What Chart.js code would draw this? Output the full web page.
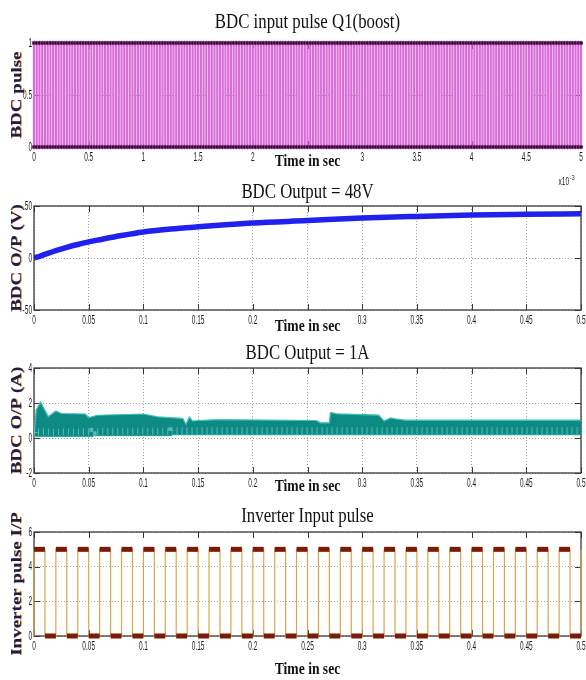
<!DOCTYPE html>
<html>
<head>
<meta charset="utf-8">
<title>BDC and inverter waveforms</title>
<script src="https://cdn.jsdelivr.net/npm/chart.js@4.4.1/dist/chart.umd.min.js"></script>
<style>
  html, body { margin: 0; padding: 0; background: #fff; }
  body { width: 586px; height: 680px; position: relative; overflow: hidden; }
  canvas { position: absolute; left: 0; }
</style>
</head>
<body>
<canvas id="q1Chart" width="586" height="190" style="top:0px"></canvas>
<canvas id="voltChart" width="586" height="166" style="top:172px"></canvas>
<canvas id="currChart" width="586" height="162" style="top:338px"></canvas>
<canvas id="invChart" width="586" height="180" style="top:500px"></canvas>
<script>
// ===== Data =====

// Q1 gate pulse, times in microseconds (axis shows x10^-3 s)
const q1RiseUs = [
  0, 50, 100, 150, 200, 250, 300, 350, 400, 450,
  500, 550, 600, 650, 700, 750, 800, 850, 900, 950,
  1000, 1050, 1100, 1150, 1200, 1250, 1300, 1350, 1400, 1450,
  1500, 1550, 1600, 1650, 1700, 1750, 1800, 1850, 1900, 1950,
  2000, 2050, 2100, 2150, 2200, 2250, 2300, 2350, 2400, 2450,
  2500, 2550, 2600, 2650, 2700, 2750, 2800, 2850, 2900, 2950,
  3000, 3050, 3100, 3150, 3200, 3250, 3300, 3350, 3400, 3450,
  3500, 3550, 3600, 3650, 3700, 3750, 3800, 3850, 3900, 3950,
  4000, 4050, 4100, 4150, 4200, 4250, 4300, 4350, 4400, 4450,
  4500, 4550, 4600, 4650, 4700, 4750, 4800, 4850, 4900, 4950, 5000
];
const q1FallUs = [
  25, 75, 125, 175, 225, 275, 325, 375, 425, 475,
  525, 575, 625, 675, 725, 775, 825, 875, 925, 975,
  1025, 1075, 1125, 1175, 1225, 1275, 1325, 1375, 1425, 1475,
  1525, 1575, 1625, 1675, 1725, 1775, 1825, 1875, 1925, 1975,
  2025, 2075, 2125, 2175, 2225, 2275, 2325, 2375, 2425, 2475,
  2525, 2575, 2625, 2675, 2725, 2775, 2825, 2875, 2925, 2975,
  3025, 3075, 3125, 3175, 3225, 3275, 3325, 3375, 3425, 3475,
  3525, 3575, 3625, 3675, 3725, 3775, 3825, 3875, 3925, 3975,
  4025, 4075, 4125, 4175, 4225, 4275, 4325, 4375, 4425, 4475,
  4525, 4575, 4625, 4675, 4725, 4775, 4825, 4875, 4925, 4975
];

// BDC output voltage (V)
const voltTimes = [0, 0.005, 0.01, 0.02, 0.03, 0.04, 0.05, 0.06, 0.08, 0.1, 0.125, 0.15, 0.175, 0.2, 0.25, 0.3, 0.35, 0.4, 0.45, 0.5];
const voltValues = [0, 1.6, 3.5, 7.2, 10.3, 13, 15.5, 17.6, 21.6, 25, 27.8, 30, 32, 33.7, 36, 38.4, 40, 41.3, 42, 42.6];

// BDC output current (A): upper envelope, lower envelope, ripple marks
const currTimes = [0, 0.002, 0.006, 0.013, 0.02, 0.025, 0.047, 0.05, 0.058, 0.1, 0.113, 0.136, 0.139, 0.142, 0.145, 0.15, 0.168, 0.258, 0.262, 0.27, 0.271, 0.277, 0.315, 0.32, 0.326, 0.33, 0.339, 0.5];
const currUpper = [0, 1.6, 2.05, 1.22, 1.54, 1.4, 1.37, 1.17, 1.3, 1.37, 1.21, 1.12, 0.78, 1.2, 0.97, 1.0, 1.05, 1.0, 0.87, 0.87, 1.46, 1.38, 1.31, 0.97, 1.15, 1.1, 1.02, 1.02];
const currLowTimes = [0, 0.054, 0.126, 0.338, 0.5];
const currLower = [0.02, 0.08, 0.13, 0.18, 0.18];
const currRipple = [0.28, 0.34, 0.38, 0.42, 0.42];

// Inverter gate pulse (s)
const invRise = [0, 0.02, 0.04, 0.06, 0.08, 0.1, 0.12, 0.14, 0.16, 0.18, 0.2, 0.22, 0.24, 0.26, 0.28, 0.3, 0.32, 0.34, 0.36, 0.38, 0.4, 0.42, 0.44, 0.46, 0.48, 0.5];
const invFall = [0.01, 0.03, 0.05, 0.07, 0.09, 0.11, 0.13, 0.15, 0.17, 0.19, 0.21, 0.23, 0.25, 0.27, 0.29, 0.31, 0.33, 0.35, 0.37, 0.39, 0.41, 0.43, 0.45, 0.47, 0.49];

// ===== Helpers =====

function pulsePoints(rises, falls, high, low) {
  const pts = [];
  rises.forEach((r, i) => {
    pts.push({x: r, y: low}, {x: r, y: high});
    if (i < falls.length) pts.push({x: falls[i], y: high}, {x: falls[i], y: low});
  });
  return pts;
}

function zip(xs, ys) {
  return xs.map((x, i) => ({x: x, y: ys[i]}));
}

function fmt(v) {
  return String(Math.round(v * 10000) / 10000);
}

function squeezed(ctx, text, x, y, font, sx, align, baseline, color) {
  ctx.save();
  ctx.translate(x, y);
  ctx.scale(sx, 1);
  ctx.font = font;
  ctx.textAlign = align;
  ctx.textBaseline = baseline;
  ctx.fillStyle = color;
  ctx.fillText(text, 0, 0);
  ctx.restore();
}

// ===== MATLAB style axes: frame, inward ticks, labels =====
const matlabAxes = {
  id: 'matlabAxes',
  beforeDatasetsDraw(chart, args, o) {
    const {ctx, chartArea: a, scales: {x, y}} = chart;
    ctx.save();
    ctx.strokeStyle = '#3a3a3a';
    ctx.lineWidth = 1.3;
    ctx.strokeRect(a.left, a.top, a.right - a.left, a.bottom - a.top);
    ctx.lineWidth = 1;
    ctx.beginPath();
    x.ticks.forEach(t => {
      const px = Math.round(x.getPixelForValue(t.value)) + 0.5;
      ctx.moveTo(px, a.bottom); ctx.lineTo(px, a.bottom - 6);
      ctx.moveTo(px, a.top); ctx.lineTo(px, a.top + 6);
    });
    y.ticks.forEach(t => {
      const py = Math.round(y.getPixelForValue(t.value)) + 0.5;
      ctx.moveTo(a.left, py); ctx.lineTo(a.left + 6, py);
      ctx.moveTo(a.right, py); ctx.lineTo(a.right - 6, py);
    });
    ctx.stroke();
    ctx.restore();
  },
  afterDraw(chart, args, o) {
    const {ctx, chartArea: a, scales: {x, y}} = chart;
    const cx = (a.left + a.right) / 2;
    const tickFont = '13px "Liberation Sans", Arial, sans-serif';

    // tick labels
    x.ticks.forEach(t => {
      squeezed(ctx, fmt(t.value / o.xDiv), x.getPixelForValue(t.value), a.bottom + 10, tickFont, 0.5, 'center', 'middle', '#1a1a1a');
    });
    y.ticks.forEach(t => {
      squeezed(ctx, fmt(t.value), a.left - 2, y.getPixelForValue(t.value), tickFont, 0.5, 'right', 'middle', '#1a1a1a');
    });

    // title
    squeezed(ctx, o.title, cx, o.titleBase, '21px "Liberation Serif", "Times New Roman", serif', 0.8, 'center', 'alphabetic', '#111');

    // x axis title; in the upper panels it sits on a white patch over the middle tick label
    if (o.coverMid) {
      ctx.save();
      ctx.font = 'bold 17px "Liberation Serif", "Times New Roman", serif';
      const w = ctx.measureText('Time in sec').width * 0.8;
      ctx.fillStyle = '#fff';
      ctx.fillRect(cx - w / 2 - 3, a.bottom + 3, w + 6, o.xTitleOff + 5);
      ctx.restore();
    }
    squeezed(ctx, 'Time in sec', cx, a.bottom + o.xTitleOff, 'bold 17px "Liberation Serif", "Times New Roman", serif', 0.8, 'center', 'middle', '#111');

    // y axis title, rotated, navy with an orange edge
    ctx.save();
    ctx.translate(17, (a.top + a.bottom) / 2);
    ctx.rotate(-Math.PI / 2);
    ctx.scale(1, 0.8);
    ctx.font = 'bold 19px "Liberation Serif", "Times New Roman", serif';
    ctx.textAlign = 'center';
    ctx.textBaseline = 'middle';
    ctx.shadowColor = '#e8962a';
    ctx.shadowOffsetX = 1.2;
    ctx.shadowOffsetY = 0;
    ctx.shadowBlur = 0.5;
    ctx.fillStyle = '#1b1d55';
    ctx.fillText(o.yTitle, 0, 0);
    ctx.restore();

    // exponent note
    if (o.note) {
      squeezed(ctx, 'x10', a.right - 12, a.bottom + 35, '10px "Liberation Sans", Arial, sans-serif', 0.65, 'right', 'middle', '#222');
      squeezed(ctx, '-3', a.right - 11, a.bottom + 31, '8px "Liberation Sans", Arial, sans-serif', 0.65, 'left', 'middle', '#222');
    }
  }
};

const gridColor = '#a0a0a0';

function baseOptions(cfg) {
  return {
    responsive: false,
    animation: false,
    events: [],
    layout: { autoPadding: false, padding: { top: cfg.top, left: 34, right: 5, bottom: cfg.bottom } },
    plugins: {
      legend: { display: false },
      tooltip: { enabled: false },
      matlabAxes: cfg
    },
    scales: {
      x: {
        type: 'linear', min: cfg.xMin, max: cfg.xMax,
        ticks: { display: false, stepSize: cfg.xStep, maxTicksLimit: 30 },
        grid: { display: cfg.xGrid, color: gridColor, drawTicks: false },
        border: { display: false, dash: [1, 2] },
        afterFit: s => { s.height = 0; }
      },
      y: {
        type: 'linear', min: cfg.yMin, max: cfg.yMax,
        ticks: { display: false, stepSize: cfg.yStep },
        grid: { display: true, color: gridColor, drawTicks: false },
        border: { display: false, dash: [1, 2] },
        afterFit: s => { s.width = 0; }
      }
    }
  };
}

// ===== BDC input pulse Q1 =====
new Chart(document.getElementById('q1Chart'), {
  type: 'line',
  data: {
    datasets: [{
      data: pulsePoints(q1RiseUs, q1FallUs, 1, 0),
      borderColor: '#da6cda',
      borderWidth: 2.2,
      pointRadius: 2,
      pointBackgroundColor: '#2a0a2a',
      pointBorderColor: '#b848b8',
      pointBorderWidth: 0.6,
      clip: false
    }]
  },
  options: baseOptions({
    top: 43, bottom: 43, xMin: 0, xMax: 5000, xStep: 500, xDiv: 1000, xGrid: false,
    yMin: 0, yMax: 1, yStep: 0.5,
    title: 'BDC input pulse Q1(boost)', titleBase: 28, xTitleOff: 15, coverMid: true,
    yTitle: 'BDC pulse', note: true
  }),
  plugins: [matlabAxes]
});

// ===== BDC output voltage =====
new Chart(document.getElementById('voltChart'), {
  type: 'line',
  data: {
    datasets: [{
      data: zip(voltTimes, voltValues),
      borderColor: '#2121ee',
      borderWidth: 5.5,
      pointRadius: 0,
      cubicInterpolationMode: 'monotone'
    }]
  },
  options: baseOptions({
    top: 34, bottom: 28, xMin: 0, xMax: 0.5, xStep: 0.05, xDiv: 1, xGrid: true,
    yMin: -50, yMax: 50, yStep: 50,
    title: 'BDC Output = 48V', titleBase: 26, xTitleOff: 17, coverMid: true,
    yTitle: 'BDC O/P (V)'
  }),
  plugins: [matlabAxes]
});

// ===== BDC output current =====
new Chart(document.getElementById('currChart'), {
  type: 'line',
  data: {
    datasets: [{
      data: zip(currTimes, currUpper),
      borderColor: '#3fc4b6',
      borderWidth: 1.2,
      backgroundColor: '#0e8a84',
      fill: 1,
      pointRadius: 0,
      order: 1
    }, {
      data: zip(currLowTimes, currLower),
      borderColor: '#45c6ba',
      borderWidth: 1,
      stepped: 'after',
      pointRadius: 0,
      order: 2
    }, {
      data: zip(currLowTimes, currRipple),
      borderColor: 'rgba(150,222,214,0.55)',
      borderWidth: 7,
      borderDash: [1, 4],
      borderCapStyle: 'butt',
      stepped: 'after',
      pointRadius: 0,
      order: 0
    }]
  },
  options: baseOptions({
    top: 30, bottom: 27, xMin: 0, xMax: 0.5, xStep: 0.05, xDiv: 1, xGrid: true,
    yMin: -2, yMax: 4, yStep: 2,
    title: 'BDC Output = 1A', titleBase: 21, xTitleOff: 14, coverMid: true,
    yTitle: 'BDC O/P (A)'
  }),
  plugins: [matlabAxes]
});

// ===== Inverter input pulse =====
const invPts = pulsePoints(invRise, invFall, 5, 0);
new Chart(document.getElementById('invChart'), {
  type: 'line',
  data: {
    datasets: [{
      data: invPts,
      borderColor: '#7b1a05',
      borderWidth: 5,
      borderCapStyle: 'butt',
      pointRadius: 0,
      clip: false,
      segment: {
        borderColor: c => c.p0.parsed.x === c.p1.parsed.x ? 'rgba(0,0,0,0)' : '#7b1a05'
      },
      order: 0
    }, {
      data: invPts,
      borderColor: '#d9a64c',
      borderWidth: 1.2,
      pointRadius: 0,
      clip: false,
      order: 1
    }]
  },
  options: baseOptions({
    top: 32, bottom: 44, xMin: 0, xMax: 0.5, xStep: 0.05, xDiv: 1, xGrid: false,
    yMin: 0, yMax: 6, yStep: 2,
    title: 'Inverter Input pulse', titleBase: 22, xTitleOff: 34, coverMid: false,
    yTitle: 'Inverter pulse I/P'
  }),
  plugins: [matlabAxes]
});
</script>
</body>
</html>
